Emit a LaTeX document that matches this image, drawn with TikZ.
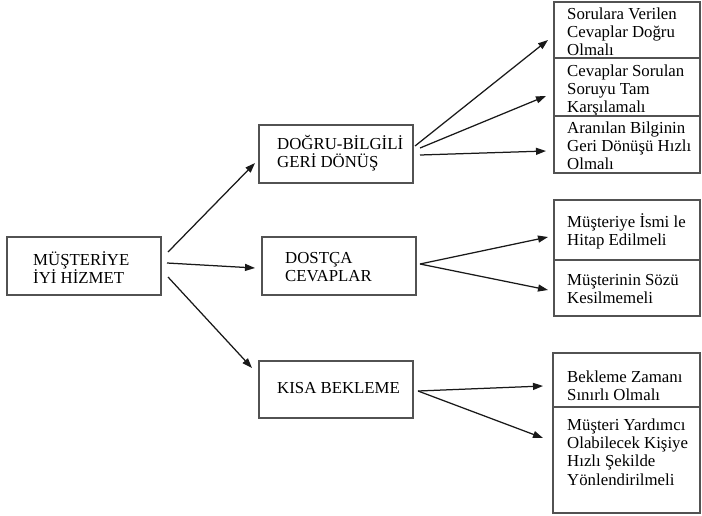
\documentclass[tikz,border=0pt]{standalone}
\usepackage{fontspec}
\setmainfont{Liberation Serif}
\usetikzlibrary{arrows.meta}
% stack of lines with a fixed baseline distance; the node's baseline is that of the first line
\newcommand{\textlines}[1]{\vtop{\baselineskip=18.4pt\lineskiplimit=-50pt\relax #1}}
\begin{document}
\begin{tikzpicture}[x=1pt,y=-1pt,
  box/.style={draw=black!68,line width=1.3pt,inner sep=0pt,outer sep=0pt},
  txt/.style={anchor=base west,inner sep=0pt,font=\fontsize{16.8}{18.4}\selectfont,text=black},
  arr/.style={line width=1.25pt,draw=black!90,-{Triangle[length=10pt,width=7pt]}}]
\useasboundingbox (0,0) rectangle (702,515);

% root box
\node[box,minimum width=154pt,minimum height=58pt] (m) at (84,266) {};
\node[txt] (mt) at (33,265) {\textlines{\hbox{MÜŞTERİYE}\hbox{İYİ HİZMET}}};

% middle column
\node[box,minimum width=154pt,minimum height=58pt] (b1) at (336,154) {};
\node[txt] (b1t) at (277,149) {\textlines{\hbox{DOĞRU-BİLGİLİ}\hbox{GERİ DÖNÜŞ}}};
\node[box,minimum width=154pt,minimum height=58pt] (b2) at (339,266) {};
\node[txt] (b2t) at (285,263) {\textlines{\hbox{DOSTÇA}\hbox{CEVAPLAR}}};
\node[box,minimum width=154pt,minimum height=57pt] (b3) at (336,389.5) {};
\node[txt] (b3t) at (277,393) {KISA BEKLEME};

% right column
\node[box,minimum width=146pt,minimum height=56pt] (r1) at (627,30) {};
\node[txt] (r1t) at (567,19) {\textlines{\hbox{Sorulara Verilen}\hbox{Cevaplar Doğru}\hbox{Olmalı}}};
\node[box,minimum width=146pt,minimum height=58pt] (r2) at (627,87) {};
\node[txt] (r2t) at (567,76) {\textlines{\hbox{Cevaplar Sorulan}\hbox{Soruyu Tam}\hbox{Karşılamalı}}};
\node[box,minimum width=146pt,minimum height=57pt] (r3) at (627,144.5) {};
\node[txt] (r3t) at (567,133) {\textlines{\hbox{Aranılan Bilginin}\hbox{Geri Dönüşü Hızlı}\hbox{Olmalı}}};

\node[box,minimum width=146pt,minimum height=60pt] (r4) at (627,230) {};
\node[txt] (r4t) at (567,227) {\textlines{\hbox{Müşteriye İsmi le}\hbox{Hitap Edilmeli}}};
\node[box,minimum width=146pt,minimum height=56pt] (r5) at (627,288) {};
\node[txt] (r5t) at (567,285) {\textlines{\hbox{Müşterinin Sözü}\hbox{Kesilmemeli}}};

\node[box,minimum width=147pt,minimum height=54pt] (r6) at (626.5,380) {};
\node[txt] (r6t) at (567,382) {\textlines{\hbox{Bekleme Zamanı}\hbox{Sınırlı Olmalı}}};
\node[box,minimum width=147pt,minimum height=106pt] (r7) at (626.5,460) {};
\node[txt] (r7t) at (567,430) {\textlines{\hbox{Müşteri Yardımcı}\hbox{Olabilecek Kişiye}\hbox{Hızlı Şekilde}\hbox{Yönlendirilmeli}}};

% connectors
\draw[arr] ([shift={(7,-14)}]m.east) -- ([shift={(-4,9)}]b1.west);
\draw[arr] ([shift={(6,-3)}]m.east) -- ([shift={(-7,2)}]b2.west);
\draw[arr] ([shift={(7,11)}]m.east) -- ([shift={(-7,-21.5)}]b3.west);

\draw[arr] ([shift={(2,-8)}]b1.east) -- ([shift={(-6,10)}]r1.west);
\draw[arr] ([shift={(7,-6)}]b1.east) -- ([shift={(-8,9)}]r2.west);
\draw[arr] ([shift={(7,1)}]b1.east) -- ([shift={(-8,6.5)}]r3.west);

\draw[arr] ([shift={(4,-2)}]b2.east) -- ([shift={(-6,7)}]r4.west);
\draw[arr] ([shift={(4,-2)}]b2.east) -- ([shift={(-6,2)}]r5.west);

\draw[arr] ([shift={(5,1.5)}]b3.east) -- ([shift={(-10,6)}]r6.west);
\draw[arr] ([shift={(5,1.5)}]b3.east) -- ([shift={(-10,-22)}]r7.west);
\end{tikzpicture}
\end{document}
